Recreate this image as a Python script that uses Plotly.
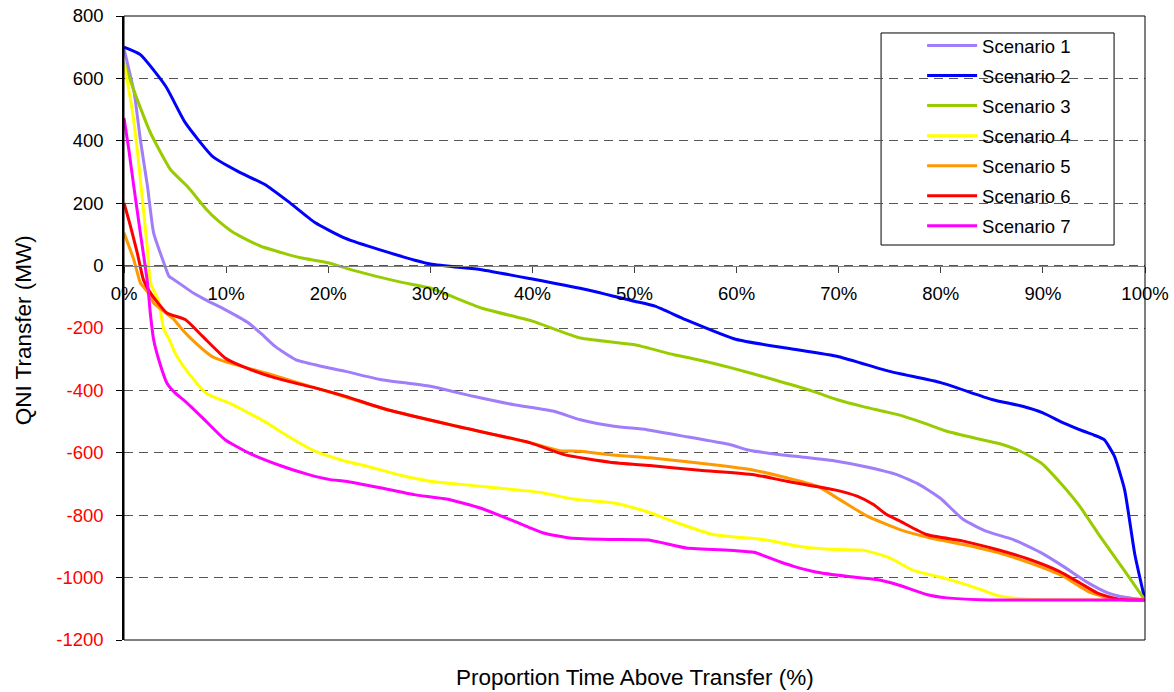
import plotly.graph_objects as go

# ---------------- data ----------------
s1_x = [0, 1.0, 1.6, 2.3, 2.9, 3.9, 4.4, 4.9, 6.3, 6.8, 8.0, 9.9, 12.2, 13.5, 14.8, 16.8, 19, 21.7,
        25.1, 30.0, 34.2, 38.2, 42.1, 44.7, 48.0, 51.2, 54.5, 59.4, 61.0, 64.3, 66.5, 69.8, 72.4,
        75.7, 77.9, 79.9, 82.2, 84.5, 87.1, 89.8, 92.0, 94.4, 96.3, 98.2, 100]
s1_y = [695, 553, 404, 254, 105, 9, -34, -45, -77, -88, -110, -141, -184, -220, -259, -301, -320, -339,
        -365, -387, -419, -446, -467, -494, -515, -526, -545, -574, -590, -606, -614, -627, -643,
        -670, -702, -744, -814, -852, -878, -920, -964, -1016, -1048, -1064, -1072]

s2_x = [0, 1.6, 4.1, 6.0, 8.7, 11.2, 13.8, 16.1, 18.7, 21.7, 25, 30, 35, 40, 45, 50, 52, 55, 60, 65,
        70, 75, 80, 85, 88, 90, 92, 94, 95, 96, 97, 98, 99, 100]
s2_y = [700, 676, 574, 458, 349, 301, 260, 205, 138, 87, 51, 5, -13, -43, -75, -114, -130, -173, -237,
        -265, -292, -339, -375, -429, -451, -472, -504, -531, -543, -558, -611, -718, -925, -1072]

s3_x = [0, 1.3, 2.6, 4.55, 6.2, 8.1, 9.1, 10.75, 13.4, 15.6, 17.3, 20.0, 22.2, 27.1, 30, 35, 40, 44.7,
        49.9, 53.8, 56.1, 59.4, 63.6, 67.5, 69.8, 72.4, 75.7, 78.3, 80.6, 83.2, 85.8, 87.8, 89.8,
        91.7, 93.6, 95.6, 97.9, 100]
s3_y = [650, 532, 425, 308, 254, 179, 147, 105, 62, 40, 25, 9, -13, -53, -72, -136, -178, -232,
        -253, -285, -301, -327, -365, -403, -429, -452, -477, -504, -531, -552, -571, -595, -632,
        -696, -771, -868, -974, -1072]

s4_x = [0, 0.8, 1.3, 1.8, 2.3, 2.6, 3.4, 3.9, 4.4, 5.0, 6.3, 8.0, 9.0, 10.3, 12.2, 14.0, 15.5, 18.7,
        21.7, 23.8, 27.1, 30.0, 34.9, 38.8, 40.8, 44.0, 48.0, 51.2, 53.8, 57.7, 62.6, 66.2, 69.8,
        72.4, 75.0, 77.3, 80.6, 83.9, 85.5, 87.8, 90, 100]
s4_y = [650, 500, 372, 212, 51, -55, -115, -205, -235, -280, -344, -408, -424, -440, -472, -504, -536,
        -595, -627, -643, -672, -691, -707, -720, -727, -748, -761, -788, -820, -862, -878, -900,
        -910, -912, -937, -977, -1004, -1038, -1057, -1068, -1071, -1072]

s5_x = [0, 0.96, 1.6, 2.4, 2.9, 4.1, 4.9, 5.7, 7.0, 8.6, 10.3, 13.9, 17.1, 20.2, 25.8, 33.3, 39.8,
        42.7, 44.7, 47.6, 51.5, 58.4, 61.7, 64.9, 67.9, 70.1, 72.8, 76.0, 79.0, 82.2, 85.5, 88.7,
        92.0, 94.4, 96.3, 98, 100]
s5_y = [105, 19, -55, -88, -120, -152, -173, -205, -248, -291, -312, -344, -376, -406, -462, -520, -568,
        -593, -595, -606, -616, -641, -656, -680, -707, -750, -803, -846, -873, -894, -919, -953,
        -996, -1044, -1065, -1071, -1072]

s6_x = [0, 0.64, 1.3, 1.9, 2.6, 4.2, 6.0, 7.7, 9.9, 11.6, 14.8, 18.7, 21.7, 25.8, 32.6, 39.8, 43.1,
        47.6, 51.5, 56.4, 61.7, 64.9, 69.5, 71.8, 73.4, 74.7, 76.0, 78.6, 82.2, 85.5, 88.7, 91.6,
        93.6, 95.3, 96.9, 98, 100]
s6_y = [201, 126, 41, -45, -88, -152, -173, -227, -296, -323, -360, -392, -419, -462, -515, -568, -606,
        -630, -641, -656, -670, -691, -718, -739, -766, -798, -819, -862, -883, -910, -942, -980,
        -1017, -1049, -1065, -1071, -1072]

s7_x = [0, 0.47, 0.96, 1.6, 2.3, 2.6, 2.9, 3.4, 4.2, 5.0, 6.0, 7.7, 9.9, 12.2, 15.5, 18.1, 20.2, 21.7,
        25.1, 28.4, 31.6, 34.9, 38.2, 41.1, 43.7, 47.6, 51.5, 55.1, 59.7, 61.7, 64.3, 65.6, 67.9,
        70.8, 73.7, 75.7, 78.6, 80.6, 83.9, 100]
s7_y = [473, 372, 254, 105, -55, -160, -237, -301, -376, -408, -435, -488, -558, -600, -643, -670, -686,
        -691, -712, -734, -748, -777, -819, -857, -873, -878, -880, -905, -913, -919, -950, -964,
        -983, -996, -1006, -1022, -1054, -1065, -1071, -1072]

series_names = ["Scenario 1", "Scenario 2", "Scenario 3", "Scenario 4",
                "Scenario 5", "Scenario 6", "Scenario 7"]
series_colors = ["#A07EFA", "#0000FF", "#99CC00", "#FFFF00", "#FF9900", "#FF0000", "#FF00FF"]

y_tick_vals = [800, 600, 400, 200, 0, -200, -400, -600, -800, -1000, -1200]
x_tick_vals = [0, 10, 20, 30, 40, 50, 60, 70, 80, 90, 100]
x_tick_text = [f"{v}%" for v in x_tick_vals]

x_title = "Proportion Time Above Transfer (%)"
y_title = "QNI Transfer (MW)"

# ---------------- figure ----------------
FONT = "Liberation Sans, Arial, sans-serif"
xs = [s1_x, s2_x, s3_x, s4_x, s5_x, s6_x, s7_x]
ys = [s1_y, s2_y, s3_y, s4_y, s5_y, s6_y, s7_y]

fig = go.Figure()
for name, color, x, y in zip(series_names, series_colors, xs, ys):
    fig.add_trace(go.Scatter(x=x, y=y, mode="lines", name=name, legendgroup=name,
                             line=dict(color=color, width=3, shape="spline", smoothing=0.5)))

y_tick_text = [str(v) if v >= 0 else f'<span style="color:#FF0000">{v}</span>' for v in y_tick_vals]

fig.update_layout(
    width=1174, height=692,
    margin=dict(l=123.5, r=29, t=16, b=52, autoexpand=False),
    paper_bgcolor="white", plot_bgcolor="white",
    font=dict(family=FONT, size=18.5, color="black"),
    showlegend=True,
    legend=dict(x=0.7817, y=0.9824, xanchor="left", yanchor="top",
                bgcolor="rgba(0,0,0,0)", borderwidth=0,
                font=dict(family=FONT, size=18.5, color="black"),
                itemwidth=50, tracegroupgap=3, traceorder="grouped"),
    xaxis=dict(range=[0, 100], anchor="free", position=0.6, automargin=False,
               tickmode="array", tickvals=x_tick_vals, ticktext=x_tick_text,
               showgrid=False, zeroline=False,
               showline=True, linecolor="#808080", linewidth=1,
               ticks="outside", ticklen=6, tickcolor="#404040", tickwidth=1,
               ticklabelstandoff=5, ticklabeloverflow="allow",
               tickfont=dict(family=FONT, size=18.5, color="black")),
    yaxis=dict(range=[-1200, 800], tickmode="array", tickvals=y_tick_vals, ticktext=y_tick_text,
               automargin=False,
               showgrid=True, gridcolor="#555555", gridwidth=1, griddash="9px,6px",
               zeroline=False,
               showline=True, linecolor="black", linewidth=1.5,
               ticks="outside", ticklen=6, tickcolor="black", tickwidth=1,
               ticklabelstandoff=9, ticklabeloverflow="allow",
               tickfont=dict(family=FONT, size=18.5, color="black")),
    shapes=[
        dict(type="rect", xref="paper", yref="paper", x0=0, x1=1, y0=0, y1=1,
             line=dict(color="black", width=1), fillcolor="rgba(0,0,0,0)", layer="above"),
        dict(type="rect", xref="paper", yref="paper", x0=0.7415, x1=0.9697, y0=0.633, y1=0.9728,
             line=dict(color="black", width=1), fillcolor="white", layer="below"),
    ],
    annotations=[
        dict(text=x_title, xref="paper", yref="paper", x=0.5, y=-0.0593,
             xanchor="center", yanchor="middle", showarrow=False,
             font=dict(family=FONT, size=22.5, color="black")),
        dict(text=y_title, xref="paper", yref="paper", x=-0.0984, y=0.4955,
             xanchor="center", yanchor="middle", showarrow=False, textangle=-90,
             font=dict(family=FONT, size=22.5, color="black")),
    ],
)

fig.write_html("out.html",
               config={"displayModeBar": False},
               post_script="document.body.style.margin='0';document.body.style.overflow='hidden';")
